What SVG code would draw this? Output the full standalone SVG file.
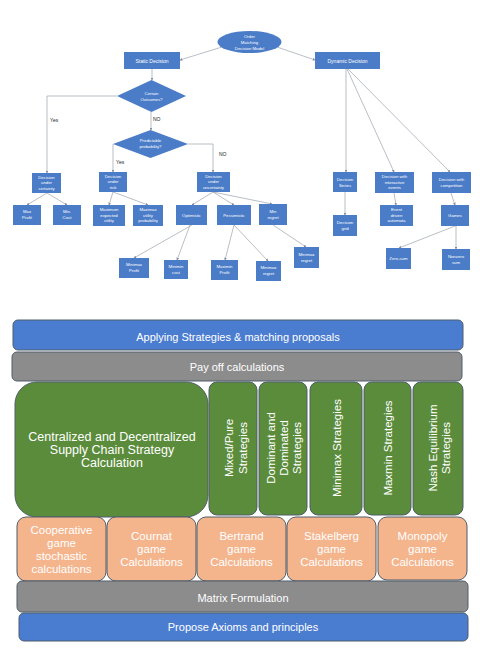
<svg xmlns="http://www.w3.org/2000/svg" width="480" height="652" viewBox="0 0 480 652">
<style>
.b{fill:#4a7cc8}
.t{font-family:"Liberation Sans",Arial,sans-serif;font-size:4.3px;fill:#fff;text-anchor:middle}
.lb{font-family:"Liberation Sans",Arial,sans-serif;font-size:5px;fill:#222}
.c{stroke:#9ba3ae;stroke-width:0.7;fill:none;marker-end:url(#ah)}
.n{stroke:#9ba3ae;stroke-width:0.7;fill:none}
.big{font-family:"Liberation Sans",Arial,sans-serif;fill:#fff;text-anchor:middle}
.bar{stroke:#4f5d6b;stroke-width:1}
.blu{fill:#4a7cd0}
.gry{fill:#8c8c8c}
.grn{fill:#5b8c3b}
.org{fill:#f4b48c}
</style>
<defs>
<marker id="ah" viewBox="0 0 6 6" refX="5" refY="3" markerWidth="4" markerHeight="4" orient="auto"><path d="M0,0L6,3L0,6z" fill="#7f8ea3"/></marker>
</defs>
<rect width="480" height="652" fill="#fff"/>

<g id="connectors">
<path class="c" d="M222,47L180,60"/>
<path class="c" d="M277,47L315,60"/>
<path class="c" d="M152,69L152,80"/>
<path class="c" d="M151,112L151,130"/>
<path class="c" d="M117,96L47,96L47,173"/>
<path class="c" d="M113,144L113,172"/>
<path class="c" d="M188,144L213,144L213,172"/>
<path class="c" d="M47,193L27,205"/>
<path class="c" d="M47,193L67,205"/>
<path class="c" d="M113,192L109,205"/>
<path class="c" d="M113,192L148,205"/>
<path class="c" d="M213,192L192,205"/>
<path class="c" d="M213,192L234,205"/>
<path class="c" d="M213,192L272,204"/>
<path class="c" d="M192,225L134,258"/>
<path class="c" d="M190,225L177,260"/>
<path class="c" d="M234,225L225,260"/>
<path class="c" d="M234,225L268,261"/>
<path class="c" d="M273,225L306,247"/>
<path class="c" d="M346,69L346,172"/>
<path class="c" d="M347,69L394,172"/>
<path class="c" d="M348,69L450,172"/>
<path class="c" d="M345,192L345,215"/>
<path class="c" d="M394,193L396,205"/>
<path class="c" d="M451,193L455,205"/>
<path class="c" d="M455,226L399,248"/>
<path class="c" d="M456,226L456,249"/>
</g>

<g id="order">
<ellipse class="b" cx="249.5" cy="42" rx="32" ry="11"/>
<text class="t" x="249.5" y="38">Order</text>
<text class="t" x="249.5" y="44">Matching</text>
<text class="t" x="249.5" y="50">Decision Model</text>
</g>
<g id="static"><rect class="b" x="124" y="52" width="56" height="17"/><text class="t" x="152" y="62.5" style="font-size:5px">Static Decision</text></g>
<g id="dynamic"><rect class="b" x="315" y="52" width="65" height="17"/><text class="t" x="347.5" y="62.5" style="font-size:5px">Dynamic Decision</text></g>
<g id="certain"><path class="b" d="M151.5,80L186,96L151.5,112L117,96z"/><text class="t" x="151.5" y="94.5">Certain</text><text class="t" x="151.5" y="100.5">Outcomes?</text></g>
<g id="predictable"><path class="b" d="M150.5,130L188,144L150.5,158L113,144z"/><text class="t" x="150.5" y="141.5">Predictable</text><text class="t" x="150.5" y="147.5">probability?</text></g>
<g id="labels">
<text class="lb" x="50" y="122">Yes</text>
<text class="lb" x="153" y="121">NO</text>
<text class="lb" x="116" y="164">Yes</text>
<text class="lb" x="219" y="156">NO</text>
</g>
<g id="certainty"><rect class="b" x="32" y="173" width="29" height="20"/><text class="t" x="46.5" y="178.5">Decision</text><text class="t" x="46.5" y="184">under</text><text class="t" x="46.5" y="189.5">certainty</text></g>
<g id="risk"><rect class="b" x="99" y="172" width="28" height="20"/><text class="t" x="113" y="177.5">Decision</text><text class="t" x="113" y="183">under</text><text class="t" x="113" y="188.5">risk</text></g>
<g id="uncertainty"><rect class="b" x="197" y="172" width="33" height="20"/><text class="t" x="213.5" y="177.5">Decision</text><text class="t" x="213.5" y="183">under</text><text class="t" x="213.5" y="188.5">uncertainty</text></g>
<g id="maxprofit"><rect class="b" x="13" y="205" width="28" height="20"/><text class="t" x="27" y="213">Max</text><text class="t" x="27" y="219">Profit</text></g>
<g id="mincost"><rect class="b" x="53" y="205" width="28" height="20"/><text class="t" x="67" y="213">Min.</text><text class="t" x="67" y="219">Cost</text></g>
<g id="maxexp"><rect class="b" x="93" y="205" width="32" height="21"/><text class="t" x="109" y="211">Maximum</text><text class="t" x="109" y="216.5">expected</text><text class="t" x="109" y="222">utility</text></g>
<g id="maximax"><rect class="b" x="133" y="205" width="30" height="21"/><text class="t" x="148" y="211">Maximax</text><text class="t" x="148" y="216.5">utility</text><text class="t" x="148" y="222">probability</text></g>
<g id="optimistic"><rect class="b" x="176" y="205" width="31" height="20"/><text class="t" x="191.5" y="216.5">Optimistic</text></g>
<g id="pessimistic"><rect class="b" x="217" y="205" width="34" height="20"/><text class="t" x="234" y="216.5">Pessimistic</text></g>
<g id="minregret"><rect class="b" x="259" y="204" width="28" height="21"/><text class="t" x="273" y="212.5">Min</text><text class="t" x="273" y="218.5">regret</text></g>
<g id="minimaxprofit"><rect class="b" x="119" y="258" width="30" height="20"/><text class="t" x="134" y="266">Minimax</text><text class="t" x="134" y="272">Profit</text></g>
<g id="minimincost"><rect class="b" x="164" y="260" width="24" height="19"/><text class="t" x="176" y="267.5">Minimin</text><text class="t" x="176" y="273.5">cost</text></g>
<g id="maximinprofit"><rect class="b" x="211" y="260" width="27" height="20"/><text class="t" x="224.5" y="268">Maximin</text><text class="t" x="224.5" y="274">Profit</text></g>
<g id="minimaxregret1"><rect class="b" x="256" y="261" width="25" height="20"/><text class="t" x="268.5" y="269">Minimax</text><text class="t" x="268.5" y="275">regret</text></g>
<g id="minimaxregret2"><rect class="b" x="294" y="247" width="25" height="21"/><text class="t" x="306.5" y="255.5">Minimax</text><text class="t" x="306.5" y="261.5">regret</text></g>
<g id="series"><rect class="b" x="333" y="172" width="24" height="20"/><text class="t" x="345" y="180.5">Decision</text><text class="t" x="345" y="186.5">Series</text></g>
<g id="interactive"><rect class="b" x="375" y="172" width="39" height="21"/><text class="t" x="394.5" y="178">Decision with</text><text class="t" x="394.5" y="183.5">interactive</text><text class="t" x="394.5" y="189">events</text></g>
<g id="competition"><rect class="b" x="432" y="172" width="39" height="21"/><text class="t" x="451.5" y="180.5">Decision with</text><text class="t" x="451.5" y="186.5">competition</text></g>
<g id="grid"><rect class="b" x="333" y="215" width="24" height="21"/><text class="t" x="345" y="224">Decision</text><text class="t" x="345" y="230">grid</text></g>
<g id="event"><rect class="b" x="380" y="205" width="33" height="21"/><text class="t" x="396.5" y="211">Event</text><text class="t" x="396.5" y="216.5">driven</text><text class="t" x="396.5" y="222">automata</text></g>
<g id="games"><rect class="b" x="441" y="205" width="28" height="21"/><text class="t" x="455" y="217">Games</text></g>
<g id="zerosum"><rect class="b" x="386" y="248" width="25" height="21"/><text class="t" x="398.5" y="260">Zero-sum</text></g>
<g id="nonzero"><rect class="b" x="442" y="249" width="28" height="21"/><text class="t" x="456" y="257.5">Nonzero</text><text class="t" x="456" y="263.5">sum</text></g>

<g id="applying"><rect class="bar blu" x="13" y="320" width="450" height="30" rx="5"/><text class="big" x="238" y="341" font-size="11">Applying Strategies &amp; matching proposals</text></g>
<g id="payoff"><rect class="bar gry" x="12" y="352" width="450" height="29" rx="5"/><text class="big" x="237" y="370.5" font-size="11">Pay off calculations</text></g>
<g id="centralized"><rect class="bar grn" x="15" y="382" width="193" height="135" rx="22"/>
<text class="big" x="112" y="441" font-size="12.5">Centralized and Decentralized</text>
<text class="big" x="112" y="454" font-size="12.5">Supply Chain Strategy</text>
<text class="big" x="112" y="467" font-size="12.5">Calculation</text></g>
<g id="mixed"><rect class="bar grn" x="209" y="382" width="48" height="133" rx="8"/>
<text class="big" font-size="11.5" transform="translate(233,448) rotate(-90)">Mixed/Pure</text>
<text class="big" font-size="11.5" transform="translate(247,448) rotate(-90)">Strategies</text></g>
<g id="dominant"><rect class="bar grn" x="259" y="382" width="48" height="133" rx="8"/>
<text class="big" font-size="11.5" transform="translate(275,448) rotate(-90)">Dominant and</text>
<text class="big" font-size="11.5" transform="translate(288,448) rotate(-90)">Dominated</text>
<text class="big" font-size="11.5" transform="translate(301,448) rotate(-90)">Strategies</text></g>
<g id="minimax"><rect class="bar grn" x="310" y="382" width="52" height="133" rx="8"/>
<text class="big" font-size="11.5" transform="translate(341,448) rotate(-90)">Minimax Strategies</text></g>
<g id="maxmin"><rect class="bar grn" x="364" y="382" width="47" height="133" rx="8"/>
<text class="big" font-size="11.5" transform="translate(392,448) rotate(-90)">Maxmin Strategies</text></g>
<g id="nash"><rect class="bar grn" x="413" y="382" width="50" height="133" rx="8"/>
<text class="big" font-size="11.5" transform="translate(437,448) rotate(-90)">Nash Equilibrium</text>
<text class="big" font-size="11.5" transform="translate(450,448) rotate(-90)">Strategies</text></g>
<g id="cooperative"><rect class="bar org" x="17" y="517" width="89" height="64" rx="9"/>
<text class="big" x="61.5" y="534" font-size="11.5">Cooperative</text>
<text class="big" x="61.5" y="547" font-size="11.5">game</text>
<text class="big" x="61.5" y="560" font-size="11.5">stochastic</text>
<text class="big" x="61.5" y="573" font-size="11.5">calculations</text></g>
<g id="cournat"><rect class="bar org" x="107" y="517" width="89" height="64" rx="9"/>
<text class="big" x="151.5" y="540" font-size="11.5">Cournat</text>
<text class="big" x="151.5" y="553" font-size="11.5">game</text>
<text class="big" x="151.5" y="566" font-size="11.5">Calculations</text></g>
<g id="bertrand"><rect class="bar org" x="197" y="517" width="89" height="64" rx="9"/>
<text class="big" x="241.5" y="540" font-size="11.5">Bertrand</text>
<text class="big" x="241.5" y="553" font-size="11.5">game</text>
<text class="big" x="241.5" y="566" font-size="11.5">Calculations</text></g>
<g id="stakelberg"><rect class="bar org" x="287" y="517" width="89" height="64" rx="9"/>
<text class="big" x="331.5" y="540" font-size="11.5">Stakelberg</text>
<text class="big" x="331.5" y="553" font-size="11.5">game</text>
<text class="big" x="331.5" y="566" font-size="11.5">Calculations</text></g>
<g id="monopoly"><rect class="bar org" x="378" y="517" width="89" height="63" rx="9"/>
<text class="big" x="422.5" y="540" font-size="11.5">Monopoly</text>
<text class="big" x="422.5" y="553" font-size="11.5">game</text>
<text class="big" x="422.5" y="566" font-size="11.5">Calculations</text></g>
<g id="matrix"><rect class="bar gry" x="17" y="581" width="451" height="31" rx="5"/><text class="big" x="243" y="601.5" font-size="11">Matrix Formulation</text></g>
<g id="axioms"><rect class="bar blu" x="19" y="613" width="449" height="28" rx="5"/><text class="big" x="243" y="631" font-size="11">Propose Axioms and principles</text></g>
</svg>
